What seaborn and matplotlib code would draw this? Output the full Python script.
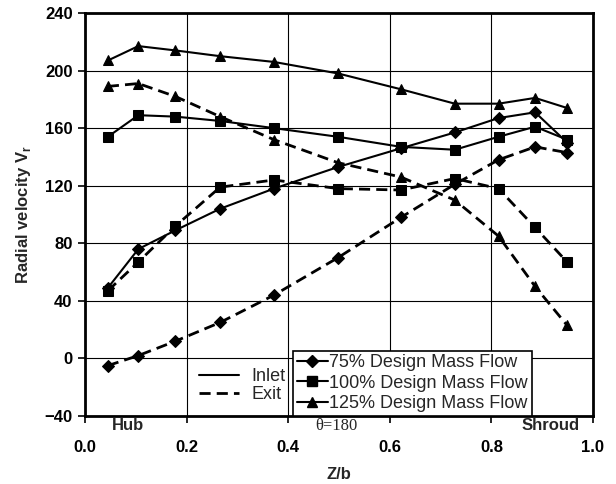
import matplotlib
matplotlib.use("Agg")
import matplotlib.pyplot as plt
import matplotlib.transforms as mtransforms
from matplotlib.lines import Line2D
import seaborn as sns
import pandas as pd

# ---- data ----
z_b = [0.045, 0.105, 0.178, 0.266, 0.372, 0.498, 0.622, 0.728, 0.814, 0.886, 0.949]
inlet_75 = [49, 76, 89, 104, 118, 133, 146, 157, 167, 171, 150]
exit_75 = [-5, 2, 12, 25, 44, 70, 98, 121, 138, 147, 143]
inlet_100 = [154, 169, 168, 165, 160, 154, 147, 145, 154, 161, 152]
exit_100 = [47, 67, 92, 119, 124, 118, 117, 125, 118, 91, 67]
inlet_125 = [207, 217, 214, 210, 206, 198, 187, 177, 177, 181, 174]
exit_125 = [189, 191, 182, 168, 152, 136, 126, 110, 85, 50, 23]

flow_labels = ["75% Design Mass Flow", "100% Design Mass Flow", "125% Design Mass Flow"]
position_labels = ["Inlet", "Exit"]
x_ticks = [0.0, 0.2, 0.4, 0.6, 0.8, 1.0]
x_tick_labels = ["0.0", "0.2", "0.4", "0.6", "0.8", "1.0"]
y_ticks = [-40, 0, 40, 80, 120, 160, 200, 240]

series = [
    (flow_labels[0], "Inlet", inlet_75), (flow_labels[0], "Exit", exit_75),
    (flow_labels[1], "Inlet", inlet_100), (flow_labels[1], "Exit", exit_100),
    (flow_labels[2], "Inlet", inlet_125), (flow_labels[2], "Exit", exit_125),
]
rows = []
for flow, pos, vals in series:
    for x, v in zip(z_b, vals):
        rows.append({"Z/b": x, "Vr": v, "flow": flow, "pos": pos})
df = pd.DataFrame(rows)

sns.set_theme(style="white")
plt.rcParams["font.family"] = ["Liberation Sans", "DejaVu Sans"]
plt.rcParams["mathtext.fontset"] = "custom"
plt.rcParams["mathtext.bf"] = "Liberation Sans:bold"
plt.rcParams["mathtext.rm"] = "Liberation Sans:bold"

fig = plt.figure(figsize=(6.16, 4.84), dpi=100)
# axes: left 85px, right 593px, top 13px, bottom 416px
ax = fig.add_axes([85 / 616, 1 - 416 / 484, 508 / 616, 403 / 484])

markers = {flow_labels[0]: "D", flow_labels[1]: "s", flow_labels[2]: "^"}
msizes = {flow_labels[0]: 6, flow_labels[1]: 7.5, flow_labels[2]: 7.5}
styles = {"Inlet": "-", "Exit": (0, (4, 2.2))}
widths = {"Inlet": 1.5, "Exit": 2.0}

for flow, pos, _ in series:
    sub = df[(df["flow"] == flow) & (df["pos"] == pos)]
    sns.lineplot(data=sub, x="Z/b", y="Vr", ax=ax, color="black",
                 marker=markers[flow], markersize=msizes[flow],
                 markeredgecolor="black", linestyle=styles[pos],
                 linewidth=widths[pos], legend=False)

ax.set_xlim(0, 1.0)
ax.set_ylim(-40, 240)
ax.set_xticks(x_ticks)
ax.set_yticks(y_ticks)
ax.set_xticklabels(x_tick_labels)
ax.grid(True, color="black", linewidth=0.8)
ax.set_axisbelow(True)

for side in ["top", "right", "bottom", "left"]:
    ax.spines[side].set_linewidth(2.0)
    ax.spines[side].set_color("black")

ax.tick_params(axis="both", which="both", direction="out", length=5, width=1.2,
               color="black", labelsize=12, labelcolor="black")
ax.tick_params(axis="x", pad=12, bottom=True)
ax.tick_params(axis="y", pad=4, left=True)
for lbl in ax.get_xticklabels() + ax.get_yticklabels():
    lbl.set_fontweight("bold")

ax.set_xlabel("Z/b", fontsize=12, fontweight="bold", labelpad=9)
ax.set_ylabel(r"Radial velocity V$_\mathbf{r}$", fontsize=12, fontweight="bold", labelpad=8)

# annotations below the axis
trans = mtransforms.blended_transform_factory(ax.transData, ax.transAxes)
ax.text(0.085, -0.006, "Hub", transform=trans, ha="center", va="top",
        fontsize=12, fontweight="bold")
ax.text(0.494, -0.006, "θ=180", transform=trans, ha="center", va="top",
        fontsize=12, family=["Liberation Serif", "DejaVu Serif"])
ax.text(0.917, -0.006, "Shroud", transform=trans, ha="center", va="top",
        fontsize=12, fontweight="bold")

# legend: flow rates
flow_handles = [Line2D([], [], color="black", marker=markers[f], markersize=msizes[f],
                       linewidth=1.5, label=f) for f in flow_labels]
leg1 = ax.legend(handles=flow_handles, loc="lower left", bbox_to_anchor=(0.41, 0.0),
                 frameon=True, fancybox=False, edgecolor="black", framealpha=1,
                 fontsize=13, handlelength=1.7, handletextpad=0.1,
                 borderpad=0.2, labelspacing=0.2, borderaxespad=0)
leg1.get_frame().set_linewidth(1.2)
ax.add_artist(leg1)

pos_handles = [Line2D([], [], color="black", linestyle=styles[p], linewidth=widths[p], label=p)
               for p in position_labels]
leg2 = ax.legend(handles=pos_handles, loc="lower left", bbox_to_anchor=(0.2, 0.0),
                 frameon=False, fontsize=13, handlelength=2.2, handletextpad=0.7,
                 labelspacing=0.05, borderaxespad=0.3)

fig.savefig("out.png", dpi=100)
